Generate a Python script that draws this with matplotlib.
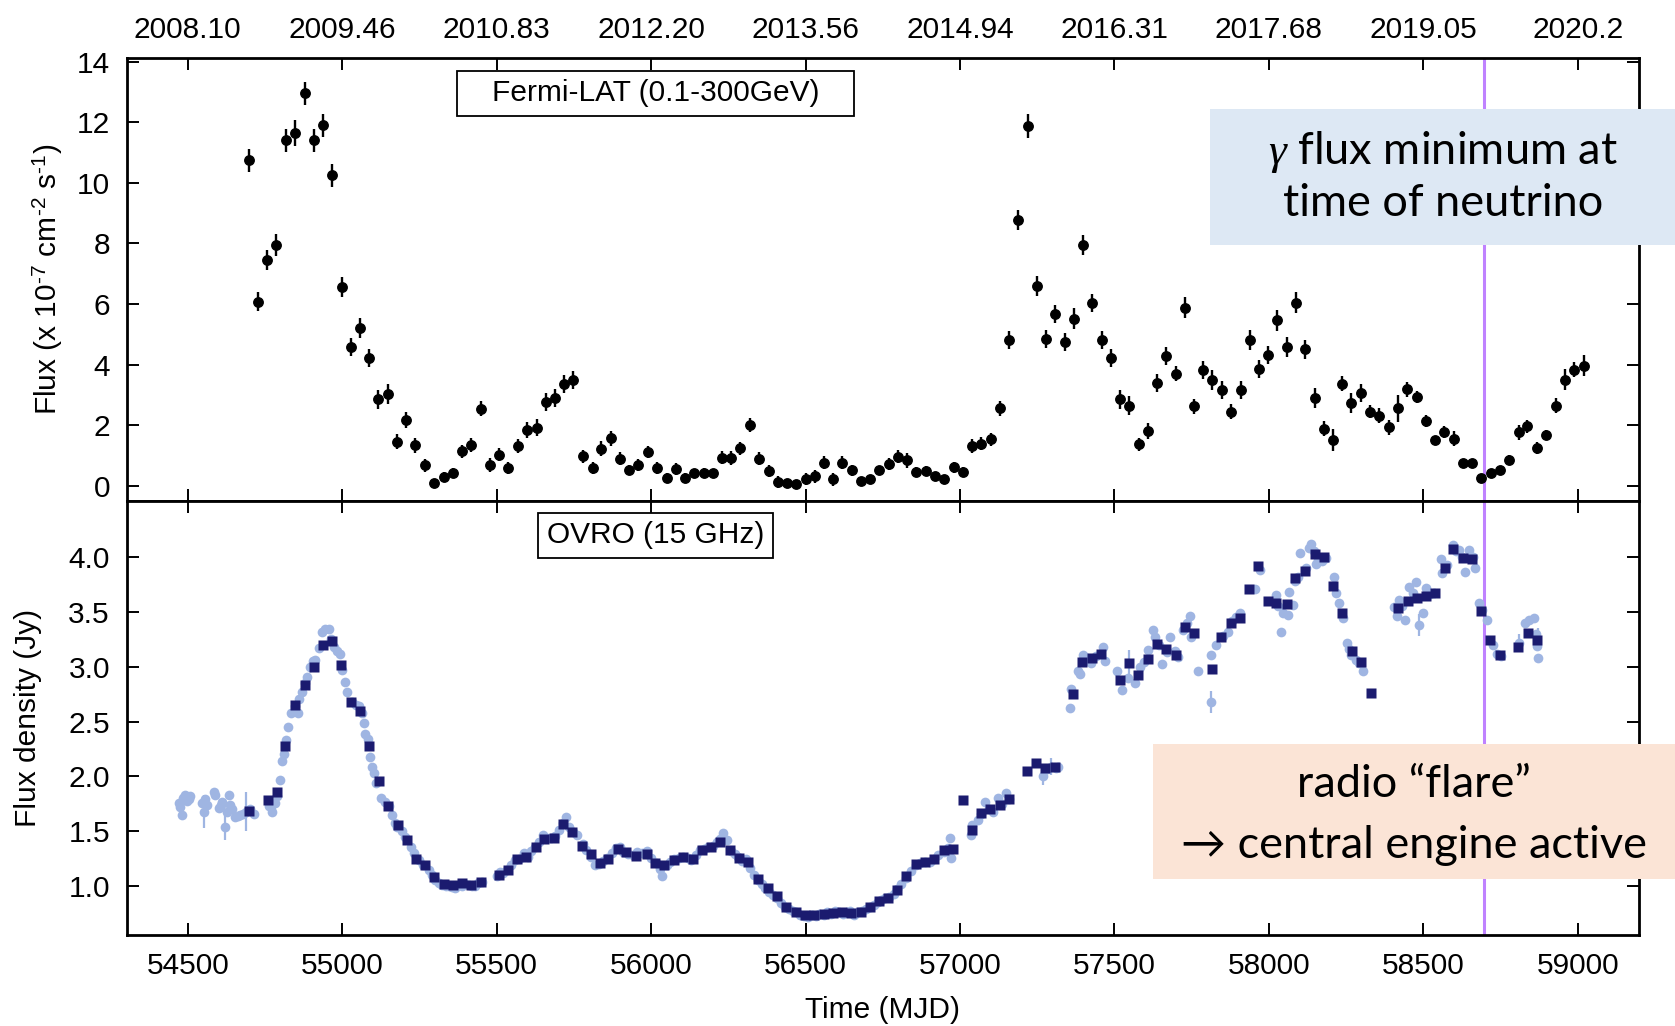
import numpy as np
import matplotlib
matplotlib.use("Agg")
import matplotlib.pyplot as plt
from matplotlib.patches import Rectangle

plt.rcParams["font.family"] = ["Liberation Sans", "DejaVu Sans"]
plt.rcParams["mathtext.fontset"] = "custom"
plt.rcParams["mathtext.rm"] = "Liberation Sans"
plt.rcParams["mathtext.it"] = "Liberation Serif:italic"
plt.rcParams["mathtext.bf"] = "Liberation Sans:bold"

# --- Fermi-LAT monthly fluxes (1e-7 cm^-2 s^-1) ---
fermi_t = [54697, 54727, 54757, 54787, 54817, 54847, 54878, 54908, 54937, 54968,
           54998, 55027, 55058, 55087, 55117, 55148, 55178, 55208, 55237, 55267,
           55298, 55328, 55358, 55388, 55418, 55448, 55479, 55509, 55538, 55568,
           55599, 55629, 55659, 55690, 55718, 55748, 55781, 55811, 55838, 55869,
           55900, 55929, 55959, 55990, 56020, 56051, 56079, 56109, 56140, 56170,
           56199, 56228, 56259, 56288, 56319, 56349, 56380, 56410, 56439, 56470,
           56500, 56530, 56559, 56590, 56619, 56650, 56679, 56709, 56739, 56769,
           56800, 56829, 56859, 56889, 56920, 56949, 56979, 57009, 57038, 57069,
           57099, 57129, 57160, 57189, 57219, 57249, 57278, 57308, 57339, 57368,
           57398, 57428, 57458, 57489, 57519, 57548, 57579, 57609, 57638, 57667,
           57698, 57728, 57757, 57788, 57817, 57847, 57877, 57908, 57938, 57967,
           57997, 58026, 58057, 58087, 58118, 58149, 58178, 58208, 58236, 58267,
           58297, 58328, 58357, 58388, 58419, 58447, 58478, 58508, 58537, 58567,
           58598, 58628, 58657, 58688, 58718, 58749, 58778, 58808, 58837, 58867,
           58897, 58928, 58957, 58988, 59019]
fermi_f = [10.75, 6.08, 7.45, 7.95, 11.40, 11.65, 12.95, 11.40, 11.90, 10.25,
           6.55, 4.58, 5.20, 4.23, 2.85, 3.03, 1.46, 2.18, 1.34, 0.68,
           0.11, 0.30, 0.44, 1.14, 1.35, 2.55, 0.69, 1.03, 0.58, 1.32,
           1.84, 1.92, 2.78, 2.89, 3.35, 3.48, 0.97, 0.60, 1.23, 1.57,
           0.90, 0.53, 0.68, 1.13, 0.60, 0.26, 0.55, 0.27, 0.42, 0.44,
           0.42, 0.93, 0.92, 1.24, 2.01, 0.90, 0.49, 0.14, 0.08, 0.05,
           0.22, 0.31, 0.77, 0.22, 0.77, 0.52, 0.16, 0.22, 0.51, 0.71,
           0.96, 0.85, 0.47, 0.49, 0.31, 0.21, 0.61, 0.46, 1.31, 1.39,
           1.54, 2.56, 4.81, 8.77, 11.87, 6.61, 4.84, 5.67, 4.75, 5.51,
           7.95, 6.04, 4.82, 4.22, 2.85, 2.65, 1.37, 1.81, 3.39, 4.28,
           3.70, 5.88, 2.62, 3.83, 3.49, 3.17, 2.45, 3.17, 4.81, 3.86,
           4.31, 5.46, 4.59, 6.05, 4.50, 2.90, 1.89, 1.51, 3.37, 2.75,
           3.06, 2.45, 2.31, 1.93, 2.56, 3.19, 2.94, 2.13, 1.50, 1.77,
           1.55, 0.74, 0.74, 0.25, 0.44, 0.51, 0.86, 1.77, 1.96, 1.26,
           1.68, 2.64, 3.50, 3.83, 3.96]
fermi_err = [.38, .32, .33, .36, .38, .42, .38, .38, .38, .38,
             .33, .30, .33, .30, .30, .32, .25, .27, .24, .22,
             .10, .15, .15, .22, .22, .25, .22, .22, .20, .24,
             .26, .28, .30, .30, .30, .30, .22, .20, .25, .25,
             .22, .15, .20, .20, .20, .15, .20, .15, .15, .15,
             .15, .22, .22, .22, .22, .22, .20, .20, .10, .10,
             .20, .20, .22, .22, .20, .18, .10, .10, .15, .20,
             .22, .25, .15, .15, .15, .10, .18, .15, .22, .22,
             .22, .25, .30, .33, .40, .33, .30, .30, .30, .35,
             .33, .30, .30, .30, .30, .30, .22, .25, .30, .30,
             .25, .35, .25, .30, .32, .30, .25, .30, .33, .30,
             .30, .35, .33, .35, .30, .33, .25, .35, .25, .33,
             .30, .22, .25, .25, .45, .25, .20, .20, .15, .20,
             .25, .15, .15, .08, .10, .10, .15, .25, .20, .20,
             .15, .25, .35, .25, .35]

# --- OVRO 15 GHz individual measurements (Jy) ---
ovro_t = [54471, 54476, 54482, 54486, 54492, 54497, 54503, 54508, 54546, 54551,
          54557, 54562, 54584, 54589, 54600, 54606, 54611, 54620, 54627, 54633,
          54638, 54643, 54654, 54662, 54670, 54680, 54687, 54700, 54714,
          54762, 54773, 54781, 54789, 54797, 54805, 54811, 54818, 54825, 54835,
          54848, 54857, 54859, 54870, 54878, 54886, 54897, 54905, 54913, 54924,
          54933, 54945, 54956, 54965, 54972, 54983, 54994, 54999, 55010, 55016,
          55030, 55043, 55053, 55064, 55071, 55075, 55084, 55091, 55097, 55102,
          55109, 55125, 55140, 55150, 55161, 55170, 55177, 55194, 55204, 55221,
          55231, 55247, 55263, 55280, 55290, 55301, 55312, 55323, 55335, 55345,
          55356, 55366, 55377, 55388, 55399, 55409, 55420, 55431, 55441, 55452,
          55501, 55512, 55522, 55533, 55545, 55560, 55572, 55587, 55600, 55612,
          55625, 55637, 55649, 55662, 55675, 55690, 55703, 55715, 55725, 55735,
          55748, 55760, 55778, 55790, 55805, 55817, 55830, 55845, 55858, 55872,
          55885, 55898, 55910, 55925, 55940, 55955, 55970, 55985, 56000, 56015,
          56028, 56036, 56050, 56062, 56075, 56090, 56103, 56118, 56130, 56145,
          56158, 56170, 56185, 56200, 56212, 56222, 56232, 56245, 56258, 56270,
          56282, 56295, 56308, 56320, 56332, 56345, 56358, 56370, 56383, 56395,
          56408, 56420, 56433, 56446, 56458, 56470, 56483, 56495, 56508, 56520,
          56533, 56545, 56558, 56570, 56583, 56595, 56608, 56620, 56633, 56645,
          56658, 56670, 56683, 56695, 56708, 56720, 56733, 56745, 56758, 56770,
          56785, 56797, 56810, 56826, 56840, 56857, 56870, 56886, 56902, 56916,
          56930, 56947, 56960, 56967, 56972, 57034, 57040, 57058, 57068, 57080,
          57095, 57107, 57123, 57135, 57150, 57160, 57269, 57280, 57295, 57310,
          57317, 57355, 57360, 57382, 57387, 57398, 57410, 57425, 57440, 57463,
          57468, 57508, 57525, 57545, 57565, 57581, 57595, 57608, 57625, 57630,
          57645, 57655, 57670, 57681, 57695, 57706, 57722, 57735, 57743, 57748,
          57770, 57811, 57813, 57830, 57850, 57867, 57880, 57895, 57905, 57954,
          57970, 58024, 58029, 58040, 58045, 58061, 58066, 58077, 58086, 58095,
          58102, 58120, 58130, 58137, 58145, 58152, 58160, 58173, 58185, 58212,
          58218, 58226, 58239, 58252, 58260, 58266, 58282, 58290, 58304,
          58406, 58414, 58420, 58430, 58442, 58455, 58466, 58476, 58487, 58500,
          58508, 58520, 58535, 58557, 58559, 58575, 58595, 58605, 58616, 58625,
          58636, 58649, 58660, 58667, 58679, 58690, 58706, 58724, 58737, 58750,
          58810, 58829, 58842, 58858, 58866, 58869, 58872]
ovro_f = [1.76, 1.72, 1.65, 1.80, 1.83, 1.78, 1.79, 1.82, 1.76, 1.68,
          1.79, 1.74, 1.86, 1.83, 1.71, 1.74, 1.77, 1.54, 1.68, 1.83,
          1.74, 1.70, 1.63, 1.64, 1.65, 1.66, 1.68, 1.70, 1.66,
          1.73, 1.68, 1.76, 1.82, 1.97, 2.14, 2.20, 2.33, 2.45, 2.58,
          2.64, 2.58, 2.71, 2.77, 2.85, 2.91, 3.00, 3.05, 3.06, 3.17,
          3.32, 3.34, 3.34, 3.25, 3.18, 3.14, 3.12, 2.97, 2.86, 2.77,
          2.68, 2.65, 2.64, 2.58, 2.49, 2.39, 2.34, 2.18, 2.09, 2.03,
          1.94, 1.80, 1.77, 1.73, 1.65, 1.58, 1.54, 1.50, 1.45, 1.36,
          1.30, 1.24, 1.19, 1.15, 1.10, 1.06, 1.03, 1.01, 1.00, 1.00,
          0.99, 0.98, 1.01, 1.00, 1.02, 1.01, 1.00, 1.00, 1.03, 1.04,
          1.09, 1.13, 1.12, 1.15, 1.19, 1.24, 1.25, 1.30, 1.27, 1.32,
          1.36, 1.40, 1.47, 1.44, 1.44, 1.46, 1.51, 1.58, 1.63, 1.54,
          1.49, 1.47, 1.38, 1.33, 1.27, 1.19, 1.20, 1.23, 1.26, 1.30,
          1.35, 1.36, 1.31, 1.29, 1.28, 1.31, 1.30, 1.32, 1.26, 1.21,
          1.16, 1.09, 1.19, 1.22, 1.25, 1.26, 1.27, 1.26, 1.24, 1.28,
          1.33, 1.34, 1.36, 1.37, 1.40, 1.43, 1.48, 1.42, 1.32, 1.29,
          1.27, 1.23, 1.25, 1.17, 1.10, 1.06, 1.02, 0.98, 0.95, 0.92,
          0.89, 0.85, 0.81, 0.79, 0.77, 0.76, 0.74, 0.73, 0.72, 0.74,
          0.73, 0.75, 0.74, 0.76, 0.75, 0.77, 0.76, 0.75, 0.76, 0.77,
          0.74, 0.76, 0.77, 0.79, 0.81, 0.83, 0.86, 0.87, 0.89, 0.90,
          0.93, 0.97, 1.02, 1.07, 1.14, 1.19, 1.21, 1.22, 1.22, 1.25,
          1.28, 1.31, 1.35, 1.44, 1.26, 1.47, 1.56, 1.60, 1.66, 1.77,
          1.70, 1.68, 1.80, 1.75, 1.85, 1.79, 2.00, 2.07, 2.09, 2.08,
          2.09, 2.62, 2.80, 2.96, 2.93, 3.11, 3.08, 3.03, 3.10, 3.18,
          3.05, 2.96, 2.79, 2.90, 2.85, 3.00, 3.04, 3.15, 3.33, 3.27,
          3.20, 3.02, 3.13, 3.27, 3.14, 3.09, 3.33, 3.40, 3.46, 3.27,
          2.96, 3.11, 2.68, 3.20, 3.28, 3.32, 3.42, 3.45, 3.49, 3.71,
          3.88, 3.65, 3.55, 3.32, 3.49, 3.47, 3.68, 3.56, 3.78, 3.82,
          4.04, 3.90, 4.08, 4.12, 4.05, 3.94, 3.97, 3.96, 3.99, 3.82,
          3.67, 3.58, 3.44, 3.22, 3.16, 3.11, 3.06, 3.03, 2.96,
          3.54, 3.46, 3.61, 3.55, 3.43, 3.73, 3.67, 3.77, 3.38, 3.49,
          3.72, 3.66, 3.67, 3.98, 3.85, 3.93, 4.11, 4.05, 4.06, 4.00,
          3.86, 4.06, 4.00, 3.90, 3.58, 3.52, 3.43, 3.20, 3.12, 3.10,
          3.22, 3.40, 3.43, 3.44, 3.30, 3.19, 3.08]

# measurements with visible error bars
ovro_eb_t = [54551, 54620, 54687, 54781, 57269, 57295, 57547, 57698, 57813, 58487, 58810, 58870]
ovro_eb_f = [1.68, 1.54, 1.68, 1.76, 2.00, 2.09, 3.03, 3.11, 2.68, 3.38, 3.22, 3.25]
ovro_eb_e = [0.15, 0.12, 0.18, 0.08, 0.08, 0.08, 0.12, 0.06, 0.10, 0.10, 0.08, 0.10]

# --- OVRO 30-day binned (Jy) ---
bin_t = [54697, 54759, 54788, 54816, 54847, 54878, 54908, 54938, 54967, 54997,
         55027, 55058, 55088, 55118, 55149, 55180, 55209, 55239, 55268, 55298,
         55328, 55359, 55388, 55418, 55448, 55506, 55537, 55567, 55595, 55626,
         55654, 55684, 55714, 55745, 55777, 55806, 55833, 55861, 55893, 55920,
         55950, 55985, 56014, 56043, 56073, 56104, 56134, 56166, 56195, 56224,
         56255, 56284, 56314, 56346, 56377, 56407, 56437, 56468, 56498, 56528,
         56558, 56589, 56619, 56647, 56678, 56708, 56738, 56766, 56797, 56826,
         56857, 56886, 56916, 56947, 56977, 57009, 57038, 57068, 57098, 57128,
         57159, 57217, 57245, 57275, 57306, 57366, 57396, 57426, 57456, 57517,
         57547, 57577, 57607, 57637, 57667, 57698, 57728, 57758, 57816, 57846,
         57876, 57906, 57936, 57965, 57996, 58024, 58057, 58086, 58116, 58148,
         58178, 58208, 58237, 58268, 58298, 58329, 58419, 58449, 58480, 58509,
         58539, 58570, 58597, 58627, 58657, 58688, 58717, 58747, 58807, 58838,
         58869]
bin_f = [1.686, 1.783, 1.859, 2.281, 2.655, 2.831, 3.001, 3.201, 3.235, 3.019,
         2.679, 2.594, 2.275, 1.959, 1.732, 1.558, 1.425, 1.246, 1.191, 1.088,
         1.024, 1.009, 1.027, 1.012, 1.039, 1.106, 1.148, 1.252, 1.264, 1.361,
         1.428, 1.443, 1.568, 1.492, 1.370, 1.294, 1.209, 1.246, 1.340, 1.309,
         1.276, 1.294, 1.215, 1.194, 1.240, 1.270, 1.249, 1.331, 1.355, 1.401,
         1.331, 1.255, 1.224, 1.067, 0.982, 0.906, 0.814, 0.763, 0.739, 0.733,
         0.745, 0.754, 0.760, 0.754, 0.763, 0.814, 0.866, 0.890, 0.967, 1.097,
         1.200, 1.224, 1.246, 1.331, 1.340, 1.786, 1.513, 1.665, 1.701, 1.741,
         1.792, 2.050, 2.126, 2.075, 2.084, 2.749, 3.040, 3.083, 3.116, 2.879,
         3.031, 2.922, 3.068, 3.204, 3.159, 3.107, 3.362, 3.311, 2.980, 3.271,
         3.402, 3.441, 3.708, 3.918, 3.602, 3.578, 3.569, 3.806, 3.872, 4.024,
         3.997, 3.736, 3.493, 3.147, 3.046, 2.758, 3.532, 3.599, 3.623, 3.645,
         3.675, 3.897, 4.070, 3.988, 3.982, 3.511, 3.244, 3.107, 3.183, 3.311,
         3.244]

mjd_ticks = [54500, 55000, 55500, 56000, 56500, 57000, 57500, 58000, 58500, 59000]
year_labels = ["2008.10", "2009.46", "2010.83", "2012.20", "2013.56",
               "2014.94", "2016.31", "2017.68", "2019.05", "2020.2"]
neutrino_mjd = 58695

W, H = 1675, 1026
fig = plt.figure(figsize=(W / 100, H / 100), dpi=100)
ax1 = fig.add_axes([0.0756, 0.5117, 0.9029, 0.4318])
ax2 = fig.add_axes([0.0756, 0.0887, 0.9029, 0.4230])

fs = 21.5
note_font = ["Lato", "DejaVu Sans"]
for ax in (ax1, ax2):
    ax.set_xlim(54302, 59198)
    ax.set_xticks(mjd_ticks)
    for s in ax.spines.values():
        s.set_linewidth(2.0)
    ax.tick_params(which="both", direction="in", length=8.5, width=1.4,
                   top=True, bottom=True, left=True, right=True,
                   labelsize=fs, pad=12)

# ---- top: Fermi ----
ax1.errorbar(fermi_t, fermi_f, yerr=fermi_err, fmt="o", color="black",
             ms=6.8, elinewidth=1.7, capsize=0, zorder=3)
ax1.set_ylim(-0.5, 14.12)
ax1.set_yticks(np.arange(0, 15, 2))
ax1.set_xticks(mjd_ticks, labels=year_labels)
ax1.tick_params(axis="x", labeltop=True, labelbottom=False, pad=10)
ax1.set_ylabel("Flux (x 10$^{\u20107}$ cm$^{\u20102}$ s$^{\u20101}$)", fontsize=fs)
ax1.yaxis.set_label_coords(-0.041, 0.5)
ax1.axvline(neutrino_mjd, color="#bf82ff", lw=2.2, zorder=2)

ax1.add_patch(Rectangle((0.2184, 0.8691), 0.2625, 0.1016, transform=ax1.transAxes,
                        facecolor="white", edgecolor="black", lw=1.3, zorder=4))
ax1.text(0.3497, 0.9199, "Fermi-LAT (0.1-300GeV)", transform=ax1.transAxes,
         ha="center", va="center", fontsize=fs, zorder=5)

# ---- bottom: OVRO ----
ax2.plot(ovro_t, ovro_f, "o", color="#9fb5e2", ms=7, mec="none", zorder=2)
ax2.errorbar(ovro_eb_t, ovro_eb_f, yerr=ovro_eb_e, fmt="none", ecolor="#9fb5e2",
             elinewidth=1.6, capsize=0, zorder=2)
ax2.plot(bin_t, bin_f, "s", color="#1b1b6f", ms=7.2, mec="none", zorder=3)
ax2.set_ylim(0.555, 4.51)
ax2.set_yticks([1.0, 1.5, 2.0, 2.5, 3.0, 3.5, 4.0])
ax2.set_yticklabels(["1.0", "1.5", "2.0", "2.5", "3.0", "3.5", "4.0"])
ax2.set_xticklabels([str(t) for t in mjd_ticks])
ax2.set_ylabel("Flux density (Jy)", fontsize=fs)
ax2.yaxis.set_label_coords(-0.056, 0.5)
ax2.set_xlabel("Time (MJD)", fontsize=fs)
ax2.xaxis.set_label_coords(0.5, -0.14)
ax2.axvline(neutrino_mjd, color="#bf82ff", lw=2.2, zorder=1)

ax2.add_patch(Rectangle((0.272, 0.8687), 0.1554, 0.1037, transform=ax2.transAxes,
                        facecolor="white", edgecolor="black", lw=1.3, zorder=4))
ax2.text(0.3497, 0.9205, "OVRO (15 GHz)", transform=ax2.transAxes,
         ha="center", va="center", fontsize=fs, zorder=5)

# ---- slide annotations ----
fig.add_artist(Rectangle((0.7224, 0.7612), 0.2776, 0.1326, transform=fig.transFigure,
                         facecolor="#dde8f4", edgecolor="none", zorder=10))
fig.text(0.8615, 0.8519, r"$\gamma$ flux minimum at", ha="center", va="center",
         fontsize=32.5, family=note_font, zorder=11)
fig.text(0.8615, 0.8021, "time of neutrino", ha="center", va="center",
         fontsize=32.5, family=note_font, zorder=11)

fig.add_artist(Rectangle((0.6884, 0.1433), 0.3116, 0.1316, transform=fig.transFigure,
                         facecolor="#fbe4d6", edgecolor="none", zorder=10))
fig.text(0.8442, 0.2349, "radio \u201cflare\u201d", ha="center", va="center",
         fontsize=32.5, family=note_font, zorder=11)
fig.text(0.8442, 0.1764, "\u2192 central engine active", ha="center", va="center",
         fontsize=32.5, family=note_font, zorder=11)

fig.savefig("out.png", dpi=100)
